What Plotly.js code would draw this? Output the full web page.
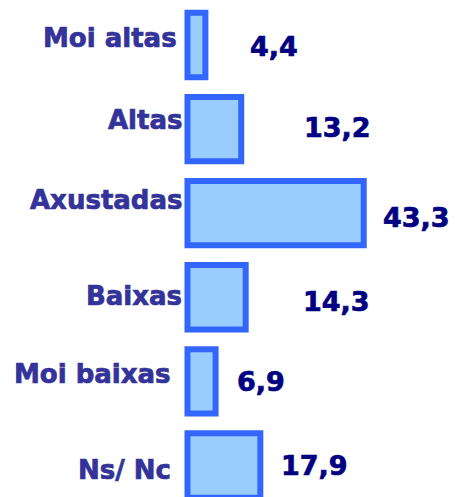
<!DOCTYPE html>
<html>
<head>
<meta charset="utf-8">
<script src="https://cdn.plot.ly/plotly-3.0.1.min.js"></script>
<style>
  html, body { margin: 0; padding: 0; background: #ffffff; }
  #chart { width: 457px; height: 497px; }
</style>
</head>
<body>
<div id="chart"></div>
<script>
// Survey answers, share of respondents (%)
const categories = ['Moi altas', 'Altas', 'Axustadas', 'Baixas', 'Moi baixas', 'Ns/ Nc'];
const values = [4.4, 13.2, 43.3, 14.3, 6.9, 17.9];

// Placement tweaks for the hand-set text labels (pixels)
const catLabelShiftX = [-3, 2, 2, 2, -9, -9];
const catLabelShiftY = [7, 9, 13, 1, 7, -5];
const valLabelShiftX = [43, 61, 17, 55, 19, 19];
const valLabelShiftY = [-2, 2, -4, -4, 0, 0];

const fontFamily = 'DejaVu Sans';
const fmt = v => v.toFixed(1).replace('.', ',');

const annotations = [];
categories.forEach((c, i) => {
  annotations.push({
    xref: 'paper', yref: 'y', x: 0, y: c,
    xanchor: 'right', yanchor: 'middle',
    xshift: catLabelShiftX[i], yshift: catLabelShiftY[i],
    text: '<b>' + c + '</b>', showarrow: false,
    font: { family: fontFamily, size: 26, color: '#333399' }
  });
  annotations.push({
    xref: 'x', yref: 'y', x: values[i], y: c,
    xanchor: 'left', yanchor: 'middle',
    xshift: valLabelShiftX[i], yshift: valLabelShiftY[i],
    text: '<b>' + fmt(values[i]) + '</b>', showarrow: false,
    font: { family: fontFamily, size: 27, color: '#000080' }
  });
});

const trace = {
  type: 'bar',
  orientation: 'h',
  x: values,
  y: categories,
  width: 0.765,
  cliponaxis: false,
  marker: { color: '#99ccff', line: { color: '#3366ff', width: 6 } },
  hoverinfo: 'none'
};

const layout = {
  width: 457, height: 497,
  margin: { l: 182, r: 0, t: 0, b: 0 },
  paper_bgcolor: '#ffffff', plot_bgcolor: '#ffffff',
  showlegend: false,
  xaxis: { range: [-1.35, 66.22], visible: false, fixedrange: true },
  yaxis: {
    type: 'category', categoryorder: 'array', categoryarray: categories,
    range: [5.375, -0.535], visible: false, fixedrange: true
  },
  annotations: annotations
};

Plotly.newPlot('chart', [trace], layout, { displayModeBar: false, staticPlot: true }).then(gd => {
  // thicken the bold labels with an outline in their own colour
  gd.querySelectorAll('.annotation-text').forEach(t => {
    t.style.stroke = t.style.fill;
    t.style.strokeWidth = '0.7px';
  });
});
</script>
</body>
</html>
